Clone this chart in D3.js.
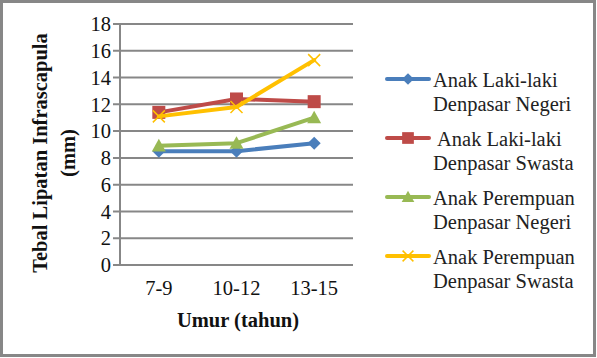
<!DOCTYPE html>
<html><head><meta charset="utf-8">
<script src="https://cdn.jsdelivr.net/npm/d3@7"></script>
<style>html,body{margin:0;padding:0;background:#fff;}svg{display:block;}</style>
</head><body>
<svg id="c" width="597" height="358"></svg>
<script>
const categories = ["7-9", "10-12", "13-15"];
const seriesNames = [
  ["Anak Laki-laki", "Denpasar Negeri"],
  [" Anak Laki-laki", "Denpasar Swasta"],
  ["Anak Perempuan", "Denpasar Negeri"],
  ["Anak Perempuan", "Denpasar Swasta"]
];
const lakiNegeri = [8.5, 8.5, 9.1];
const lakiSwasta = [11.4, 12.4, 12.2];
const perempuanNegeri = [8.9, 9.1, 11.0];
const perempuanSwasta = [11.1, 11.8, 15.3];
const yTicks = [0, 2, 4, 6, 8, 10, 12, 14, 16, 18];
const colors = ["#4A7EBB", "#BE4B48", "#98B954", "#FFC000"];
const markers = ["diamond", "square", "triangle", "x"];

const seriesValues = [lakiNegeri, lakiSwasta, perempuanNegeri, perempuanSwasta];
const svg = d3.select("#c");
const FS = 20.5;
const FF = '"Times New Roman", "Liberation Serif", Tinos, serif';

function label(parent, tx, ty, str, opts) {
  const o = opts || {};
  const g = parent.append("g").attr("transform", `translate(${tx},${ty})${o.rotate ? " rotate(-90)" : ""}`);
  return g.append("text").attr("x", 0).attr("y", 0)
    .attr("text-anchor", o.anchor || "start")
    .attr("dy", o.dy || 0)
    .style("font-family", FF).style("font-size", FS + "px")
    .style("font-weight", o.bold ? "bold" : "normal")
    .style("fill", o.fill || "#111").style("white-space", "pre")
    .text(str);
}

// border
svg.append("rect").attr("x", 1.5).attr("y", 1.5).attr("width", 593).attr("height", 354)
  .attr("fill", "none").attr("stroke", "#878787").attr("stroke-width", 3);

const L = 120, R = 353, T = 24, B = 265;
const x = d3.scaleBand().domain(categories).range([L, R]);
const y = d3.scaleLinear().domain([0, 18]).range([B, T]);

// grid
svg.append("g").selectAll("line").data(yTicks).join("line")
  .attr("x1", L - 7).attr("x2", R).attr("y1", d => y(d)).attr("y2", d => y(d))
  .attr("stroke", "#878787").attr("stroke-width", 2);
svg.append("line").attr("x1", L).attr("x2", L).attr("y1", T).attr("y2", B)
  .attr("stroke", "#878787").attr("stroke-width", 2);

// tick labels
const yl = svg.append("g");
yTicks.forEach(d => label(yl, L - 9, y(d), String(d), { anchor: "end", dy: "0.35em" }));
const xl = svg.append("g");
categories.forEach(c => label(xl, x(c) + x.bandwidth() / 2, 295, c, { anchor: "middle" }));

// titles
label(svg, 238, 327, "Umur (tahun)", { anchor: "middle", bold: true });
label(svg, 47, 153, "Tebal Lipatan Infrascapula", { anchor: "middle", bold: true, rotate: true });
label(svg, 75, 153, "(mm)", { anchor: "middle", bold: true, rotate: true });

function drawMarker(g, type, cx, cy, color, scale) {
  const s = scale || 1;
  if (type === "diamond") {
    const r = 6.5 * s;
    g.append("path").attr("d", `M${cx},${cy - r}L${cx + r},${cy}L${cx},${cy + r}L${cx - r},${cy}Z`).attr("fill", color);
  } else if (type === "square") {
    const r = 6.5 * s;
    g.append("rect").attr("x", cx - r).attr("y", cy - r).attr("width", 2 * r).attr("height", 2 * r).attr("fill", color);
  } else if (type === "triangle") {
    const r = 7 * s;
    g.append("path").attr("d", `M${cx},${cy - r}L${cx + r},${cy + r * 0.8}L${cx - r},${cy + r * 0.8}Z`).attr("fill", color);
  } else {
    const r = 6 * s;
    g.append("path").attr("d", `M${cx - r},${cy - r}L${cx + r},${cy + r}M${cx - r},${cy + r}L${cx + r},${cy - r}`)
      .attr("stroke", color).attr("stroke-width", 1.5).attr("fill", "none");
  }
}

const line = d3.line().x((d, i) => x(categories[i]) + x.bandwidth() / 2).y(d => y(d));
seriesValues.forEach((vals, si) => {
  const g = svg.append("g");
  g.append("path").attr("d", line(vals)).attr("fill", "none").attr("stroke", colors[si])
    .attr("stroke-width", 4).attr("stroke-linejoin", "round").attr("stroke-linecap", "round");
  vals.forEach((v, i) => drawMarker(g, markers[si], x(categories[i]) + x.bandwidth() / 2, y(v), colors[si], 1));
});

// legend
const legY = [79, 138, 197, 256];
seriesNames.forEach((nm, si) => {
  const g = svg.append("g");
  const ly = legY[si];
  g.append("line").attr("x1", 387).attr("x2", 429).attr("y1", ly).attr("y2", ly)
    .attr("stroke", colors[si]).attr("stroke-width", 4).attr("stroke-linecap", "round");
  drawMarker(g, markers[si], 408, ly, colors[si], 0.9);
  label(g, 433, ly + 8, nm[0], { fill: "#222" });
  label(g, 433, ly + 32, nm[1], { fill: "#222" });
});
</script>
</body></html>
